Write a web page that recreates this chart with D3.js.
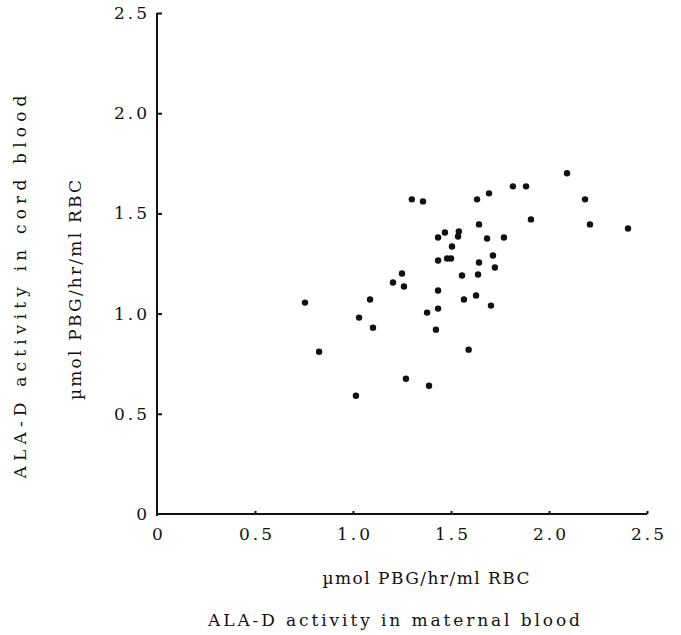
<!DOCTYPE html>
<html><head><meta charset="utf-8">
<script src="https://cdn.jsdelivr.net/npm/d3@7"></script>
<style>
body{margin:0;background:#fff;}
text{font-family:"DejaVu Serif","Liberation Serif",serif;fill:#111;}
</style></head>
<body>
<script>
const maternal = [0.755,0.827,1.015,1.031,1.087,1.102,1.204,1.25,1.26,1.27,1.30,1.357,1.378,1.388,1.423,1.434,1.434,1.434,1.434,1.469,1.48,1.50,1.505,1.54,1.536,1.556,1.566,1.59,1.628,1.633,1.643,1.643,1.638,1.684,1.694,1.704,1.714,1.724,1.77,1.816,1.883,1.908,2.092,2.184,2.209,2.403];
const cord = [1.055,0.81,0.59,0.98,1.07,0.93,1.155,1.20,1.135,0.675,1.57,1.56,1.005,0.64,0.92,1.38,1.265,1.115,1.025,1.405,1.275,1.275,1.335,1.41,1.385,1.19,1.07,0.82,1.09,1.57,1.445,1.255,1.195,1.375,1.60,1.04,1.29,1.23,1.38,1.635,1.635,1.47,1.70,1.57,1.445,1.425];
const xTicks = [0,0.5,1.0,1.5,2.0,2.5];
const yTicks = [0,0.5,1.0,1.5,2.0,2.5];
const xTickLabels = ["0","0.5","1.0","1.5","2.0","2.5"];
const yTickLabels = ["0","0.5","1.0","1.5","2.0","2.5"];
const xUnit = "µmol PBG/hr/ml RBC";
const xTitle = "ALA-D activity in maternal blood";
const yUnit = "µmol PBG/hr/ml RBC";
const yTitle = "ALA-D activity in cord blood";

const W=681,H=635;
const m={left:157,top:13};
const pw=490, ph=501;
const FS="17px";
const svg=d3.select("body").append("svg").attr("width",W).attr("height",H);
const g=svg.append("g").attr("transform",`translate(${m.left},${m.top})`);
const x=d3.scaleLinear().domain([0,2.5]).range([0,pw]);
const y=d3.scaleLinear().domain([0,2.5]).range([ph,0]);

const xAxis=g.append("g").attr("transform",`translate(0,${ph})`)
  .call(d3.axisBottom(x).tickValues(xTicks).tickSize(-3).tickPadding(14).tickFormat((d,i)=>xTickLabels[i]));
const yAxis=g.append("g")
  .call(d3.axisLeft(y).tickValues(yTicks).tickSize(-5).tickPadding(7).tickFormat((d,i)=>yTickLabels[i]));
[xAxis,yAxis].forEach(a=>{
  a.attr("font-family",null);
  a.select(".domain").attr("stroke","#111").attr("stroke-width",2);
  a.selectAll(".tick line").attr("stroke","#111").attr("stroke-width",2);
  a.selectAll("text").style("font-size",FS).style("letter-spacing","3px").attr("fill","#111");
});
xAxis.selectAll(".tick text").attr("dy","0.71em").attr("dx","1.5px");
yAxis.selectAll(".tick").filter(d=>d===0).select("line").remove();
xAxis.selectAll(".tick").filter(d=>d===0).select("line").remove();
xAxis.select(".domain").attr("d",`M0,0H${pw}`);
yAxis.select(".domain").attr("d",`M0,${ph+2}V0`);

g.selectAll("circle.pt").data(maternal.map((v,i)=>[v,cord[i]])).join("circle")
  .attr("class","pt").attr("cx",d=>x(d[0])).attr("cy",d=>y(d[1])).attr("r",3.2).attr("fill","#111");

function title(t,tx,ty,rot,len){
  svg.append("text").attr("transform",`translate(${tx},${ty}) rotate(${rot})`)
    .attr("text-anchor","middle").style("font-size",FS)
    .attr("textLength",len).attr("lengthAdjust","spacing").text(t);
}
title(xUnit,426,584,0,207);
title(xTitle,394,626,0,372);
title(yUnit,81,290,-90,220);
title(yTitle,26,287,-90,383);
</script>
</body></html>
